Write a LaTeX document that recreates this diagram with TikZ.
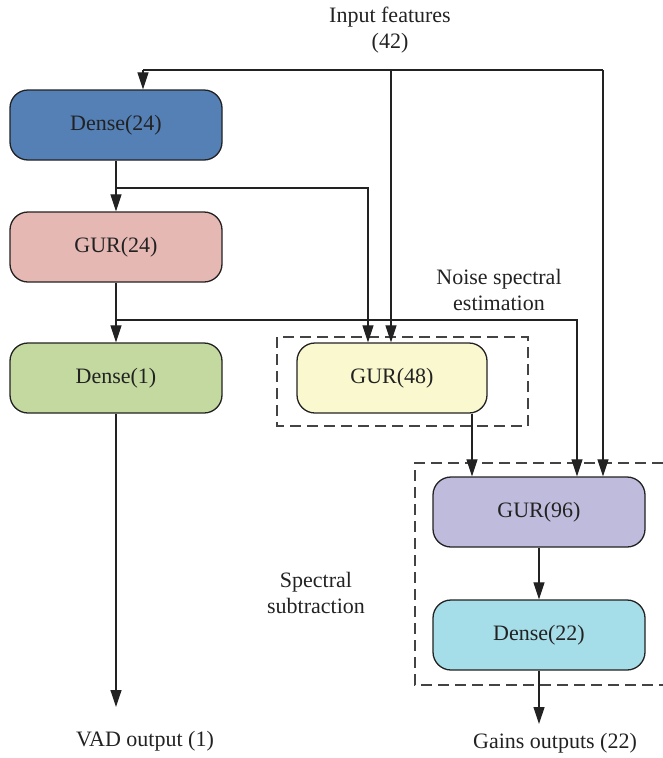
\documentclass[tikz,border=0pt]{standalone}
\usepackage{fontspec}
\setmainfont{Liberation Serif}
\usetikzlibrary{arrows.meta,calc}
\definecolor{inkc}{HTML}{222222}
\definecolor{cDenseA}{HTML}{5480B5}
\definecolor{cGurA}{HTML}{E6B8B4}
\definecolor{cDenseB}{HTML}{C4D9A0}
\definecolor{cGurB}{HTML}{FAF8CE}
\definecolor{cGurC}{HTML}{BFBBDC}
\definecolor{cDenseC}{HTML}{A5DDE8}
\tikzset{
  layer/.style={draw=inkc, line width=1.3pt, rounded corners=18pt,
    minimum width=212pt, minimum height=70pt, inner sep=0pt,
    text=inkc, font=\fontsize{22}{26}\selectfont},
  lbl/.style={text=inkc, align=center, inner sep=0pt,
    font=\fontsize{22}{26}\selectfont},
  arr/.style={draw=inkc, line width=1.2pt, -{Triangle[length=17pt,width=11pt]}},
  wire/.style={draw=inkc, line width=1.2pt},
  group/.style={draw=inkc!85, line width=1.2pt, dash pattern=on 11pt off 6pt}
}
\begin{document}
\begin{tikzpicture}[x=1pt,y=-1pt]
\useasboundingbox (0,0) rectangle (663,758);

% layers
\node[layer, fill=cDenseA] (d24) at (116,125) {Dense(24)};
\node[layer, fill=cGurA]   (g24) at (116,247) {GUR(24)};
\node[layer, fill=cDenseB] (d1)  at (116,378) {Dense(1)};
\node[layer, fill=cGurB, minimum width=190pt] (g48) at (392,378) {GUR(48)};
\node[layer, fill=cGurC]   (g96) at (539,512) {GUR(96)};
\node[layer, fill=cDenseC] (d22) at (539,635) {Dense(22)};

% labels
\node[lbl] (inp)   at (390,30)  {Input features\\(42)};
\node[lbl] (noise) at (499,290) {Noise spectral\\estimation};
\node[lbl] (spec)  at (316,593) {Spectral\\subtraction};
\node[lbl] (vad)   at (145,741) {VAD output (1)};
\node[lbl] (gains) at (555,743) {Gains outputs (22)};

% dashed groups
\draw[group] (277,337) rectangle (528,426);
\draw[group] (663,463) -- (415,463) -- (415,685) -- (663,685);

% input feature bus
\coordinate (topL) at (143,70);
\coordinate (topM) at (391,70);
\coordinate (topR) at (603,70);
\draw[wire] (topL) -- (topR);
\draw[arr] (topL) -- (topL |- d24.north);
\draw[arr] (topM) -- (topM |- g48.north);
\draw[arr] (topR) -- (topR |- g96.north);

% main VAD branch
\draw[arr] (d24.south) -- (g24.north);
\draw[arr] (g24.south) -- (d1.north);
\coordinate (vadend) at (116,707);
\draw[arr] (d1.south) -- (vadend);

% skip connections
\coordinate (b1) at (116,188);
\coordinate (b1r) at (368,188);
\draw[arr] (b1) -- (b1r) -- (b1r |- g48.north);
\coordinate (b2) at (116,320);
\coordinate (b2r) at (577,320);
\draw[arr] (b2) -- (b2r) -- (b2r |- g96.north);
\coordinate (g48out) at (472,0);
\draw[arr] (g48out |- g48.south) -- (g48out |- g96.north);

% spectral subtraction branch
\draw[arr] (g96.south) -- (d22.north);
\coordinate (gainend) at (539,724);
\draw[arr] (d22.south) -- (gainend);
\end{tikzpicture}
\end{document}
